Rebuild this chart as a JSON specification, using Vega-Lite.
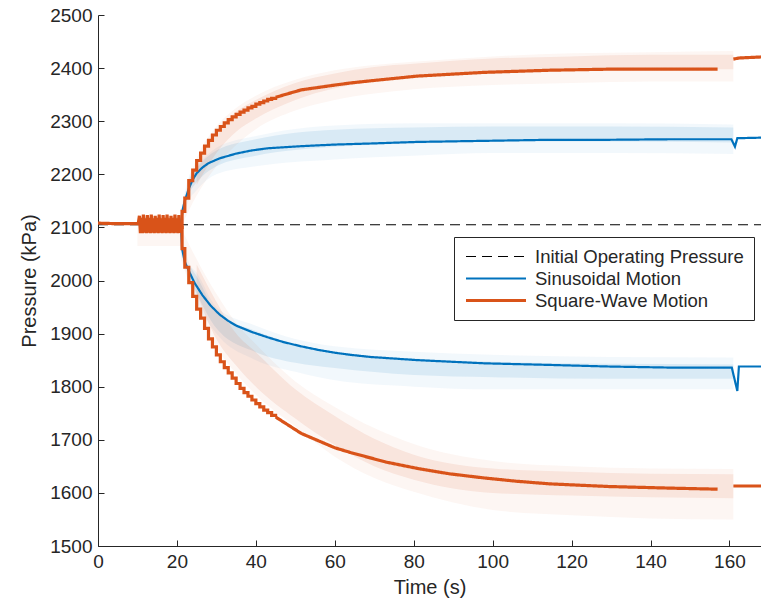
{
  "$schema": "https://vega.github.io/schema/vega-lite/v6.json",
  "autosize": "none",
  "width": 663,
  "height": 531,
  "padding": {"left": 98, "top": 15, "right": 0, "bottom": 67},
  "background": "white",
  "datasets": {
    "bands": [
      {"grp": "qo", "motion": "Square-Wave Motion", "kind": "faint", "t": 10, "lo": 2065, "hi": 2105},
      {"grp": "qo", "motion": "Square-Wave Motion", "kind": "faint", "t": 21, "lo": 2065, "hi": 2105},

      {"grp": "bu", "motion": "Sinusoidal Motion", "kind": "faint", "t": 21, "lo": 2105, "hi": 2125},
      {"grp": "bu", "motion": "Sinusoidal Motion", "kind": "faint", "t": 23, "lo": 2150, "hi": 2195},
      {"grp": "bu", "motion": "Sinusoidal Motion", "kind": "faint", "t": 25, "lo": 2170, "hi": 2215},
      {"grp": "bu", "motion": "Sinusoidal Motion", "kind": "faint", "t": 30, "lo": 2200, "hi": 2250},
      {"grp": "bu", "motion": "Sinusoidal Motion", "kind": "faint", "t": 40, "lo": 2215, "hi": 2272},
      {"grp": "bu", "motion": "Sinusoidal Motion", "kind": "faint", "t": 60, "lo": 2228, "hi": 2292},
      {"grp": "bu", "motion": "Sinusoidal Motion", "kind": "faint", "t": 80, "lo": 2235, "hi": 2296},
      {"grp": "bu", "motion": "Sinusoidal Motion", "kind": "faint", "t": 100, "lo": 2240, "hi": 2296},
      {"grp": "bu", "motion": "Sinusoidal Motion", "kind": "faint", "t": 130, "lo": 2240, "hi": 2296},
      {"grp": "bu", "motion": "Sinusoidal Motion", "kind": "faint", "t": 161, "lo": 2238, "hi": 2294},
      {"grp": "bu", "motion": "Sinusoidal Motion", "kind": "dense", "t": 23, "lo": 2165, "hi": 2190},
      {"grp": "bu", "motion": "Sinusoidal Motion", "kind": "dense", "t": 25, "lo": 2185, "hi": 2212},
      {"grp": "bu", "motion": "Sinusoidal Motion", "kind": "dense", "t": 30, "lo": 2215, "hi": 2245},
      {"grp": "bu", "motion": "Sinusoidal Motion", "kind": "dense", "t": 40, "lo": 2235, "hi": 2266},
      {"grp": "bu", "motion": "Sinusoidal Motion", "kind": "dense", "t": 60, "lo": 2252, "hi": 2284},
      {"grp": "bu", "motion": "Sinusoidal Motion", "kind": "dense", "t": 80, "lo": 2258, "hi": 2288},
      {"grp": "bu", "motion": "Sinusoidal Motion", "kind": "dense", "t": 100, "lo": 2262, "hi": 2290},
      {"grp": "bu", "motion": "Sinusoidal Motion", "kind": "dense", "t": 130, "lo": 2262, "hi": 2290},
      {"grp": "bu", "motion": "Sinusoidal Motion", "kind": "dense", "t": 161, "lo": 2260, "hi": 2288},

      {"grp": "bl", "motion": "Sinusoidal Motion", "kind": "faint", "t": 21, "lo": 2050, "hi": 2100},
      {"grp": "bl", "motion": "Sinusoidal Motion", "kind": "faint", "t": 23, "lo": 2000, "hi": 2035},
      {"grp": "bl", "motion": "Sinusoidal Motion", "kind": "faint", "t": 25, "lo": 1960, "hi": 2015},
      {"grp": "bl", "motion": "Sinusoidal Motion", "kind": "faint", "t": 30, "lo": 1900, "hi": 1950},
      {"grp": "bl", "motion": "Sinusoidal Motion", "kind": "faint", "t": 40, "lo": 1850, "hi": 1915},
      {"grp": "bl", "motion": "Sinusoidal Motion", "kind": "faint", "t": 50, "lo": 1828, "hi": 1890},
      {"grp": "bl", "motion": "Sinusoidal Motion", "kind": "faint", "t": 60, "lo": 1812, "hi": 1876},
      {"grp": "bl", "motion": "Sinusoidal Motion", "kind": "faint", "t": 80, "lo": 1800, "hi": 1866},
      {"grp": "bl", "motion": "Sinusoidal Motion", "kind": "faint", "t": 100, "lo": 1795, "hi": 1860},
      {"grp": "bl", "motion": "Sinusoidal Motion", "kind": "faint", "t": 130, "lo": 1795, "hi": 1856},
      {"grp": "bl", "motion": "Sinusoidal Motion", "kind": "faint", "t": 161, "lo": 1795, "hi": 1855},
      {"grp": "bl", "motion": "Sinusoidal Motion", "kind": "dense", "t": 23, "lo": 2005, "hi": 2030},
      {"grp": "bl", "motion": "Sinusoidal Motion", "kind": "dense", "t": 25, "lo": 1975, "hi": 2008},
      {"grp": "bl", "motion": "Sinusoidal Motion", "kind": "dense", "t": 30, "lo": 1910, "hi": 1940},
      {"grp": "bl", "motion": "Sinusoidal Motion", "kind": "dense", "t": 40, "lo": 1865, "hi": 1905},
      {"grp": "bl", "motion": "Sinusoidal Motion", "kind": "dense", "t": 50, "lo": 1845, "hi": 1880},
      {"grp": "bl", "motion": "Sinusoidal Motion", "kind": "dense", "t": 60, "lo": 1835, "hi": 1866},
      {"grp": "bl", "motion": "Sinusoidal Motion", "kind": "dense", "t": 80, "lo": 1822, "hi": 1853},
      {"grp": "bl", "motion": "Sinusoidal Motion", "kind": "dense", "t": 100, "lo": 1818, "hi": 1847},
      {"grp": "bl", "motion": "Sinusoidal Motion", "kind": "dense", "t": 130, "lo": 1815, "hi": 1843},
      {"grp": "bl", "motion": "Sinusoidal Motion", "kind": "dense", "t": 161, "lo": 1815, "hi": 1842},

      {"grp": "qu", "motion": "Square-Wave Motion", "kind": "faint", "t": 21, "lo": 2100, "hi": 2135},
      {"grp": "qu", "motion": "Square-Wave Motion", "kind": "faint", "t": 25, "lo": 2160, "hi": 2230},
      {"grp": "qu", "motion": "Square-Wave Motion", "kind": "faint", "t": 30, "lo": 2215, "hi": 2290},
      {"grp": "qu", "motion": "Square-Wave Motion", "kind": "faint", "t": 35, "lo": 2255, "hi": 2325},
      {"grp": "qu", "motion": "Square-Wave Motion", "kind": "faint", "t": 40, "lo": 2285, "hi": 2348},
      {"grp": "qu", "motion": "Square-Wave Motion", "kind": "faint", "t": 50, "lo": 2320, "hi": 2378},
      {"grp": "qu", "motion": "Square-Wave Motion", "kind": "faint", "t": 60, "lo": 2340, "hi": 2396},
      {"grp": "qu", "motion": "Square-Wave Motion", "kind": "faint", "t": 70, "lo": 2352, "hi": 2406},
      {"grp": "qu", "motion": "Square-Wave Motion", "kind": "faint", "t": 80, "lo": 2360, "hi": 2412},
      {"grp": "qu", "motion": "Square-Wave Motion", "kind": "faint", "t": 100, "lo": 2368, "hi": 2422},
      {"grp": "qu", "motion": "Square-Wave Motion", "kind": "faint", "t": 120, "lo": 2372, "hi": 2428},
      {"grp": "qu", "motion": "Square-Wave Motion", "kind": "faint", "t": 140, "lo": 2375, "hi": 2430},
      {"grp": "qu", "motion": "Square-Wave Motion", "kind": "faint", "t": 161, "lo": 2375, "hi": 2432},
      {"grp": "qu", "motion": "Square-Wave Motion", "kind": "dense", "t": 25, "lo": 2180, "hi": 2222},
      {"grp": "qu", "motion": "Square-Wave Motion", "kind": "dense", "t": 30, "lo": 2240, "hi": 2282},
      {"grp": "qu", "motion": "Square-Wave Motion", "kind": "dense", "t": 35, "lo": 2280, "hi": 2318},
      {"grp": "qu", "motion": "Square-Wave Motion", "kind": "dense", "t": 40, "lo": 2305, "hi": 2340},
      {"grp": "qu", "motion": "Square-Wave Motion", "kind": "dense", "t": 50, "lo": 2340, "hi": 2372},
      {"grp": "qu", "motion": "Square-Wave Motion", "kind": "dense", "t": 60, "lo": 2362, "hi": 2390},
      {"grp": "qu", "motion": "Square-Wave Motion", "kind": "dense", "t": 70, "lo": 2375, "hi": 2402},
      {"grp": "qu", "motion": "Square-Wave Motion", "kind": "dense", "t": 80, "lo": 2385, "hi": 2408},
      {"grp": "qu", "motion": "Square-Wave Motion", "kind": "dense", "t": 100, "lo": 2392, "hi": 2418},
      {"grp": "qu", "motion": "Square-Wave Motion", "kind": "dense", "t": 120, "lo": 2396, "hi": 2422},
      {"grp": "qu", "motion": "Square-Wave Motion", "kind": "dense", "t": 140, "lo": 2398, "hi": 2425},
      {"grp": "qu", "motion": "Square-Wave Motion", "kind": "dense", "t": 161, "lo": 2398, "hi": 2425},

      {"grp": "ql", "motion": "Square-Wave Motion", "kind": "faint", "t": 21, "lo": 2040, "hi": 2100},
      {"grp": "ql", "motion": "Square-Wave Motion", "kind": "faint", "t": 25, "lo": 1955, "hi": 2040},
      {"grp": "ql", "motion": "Square-Wave Motion", "kind": "faint", "t": 30, "lo": 1875, "hi": 1975},
      {"grp": "ql", "motion": "Square-Wave Motion", "kind": "faint", "t": 35, "lo": 1825, "hi": 1920},
      {"grp": "ql", "motion": "Square-Wave Motion", "kind": "faint", "t": 40, "lo": 1785, "hi": 1880},
      {"grp": "ql", "motion": "Square-Wave Motion", "kind": "faint", "t": 50, "lo": 1725, "hi": 1810},
      {"grp": "ql", "motion": "Square-Wave Motion", "kind": "faint", "t": 60, "lo": 1668, "hi": 1762},
      {"grp": "ql", "motion": "Square-Wave Motion", "kind": "faint", "t": 70, "lo": 1628, "hi": 1722},
      {"grp": "ql", "motion": "Square-Wave Motion", "kind": "faint", "t": 80, "lo": 1602, "hi": 1692},
      {"grp": "ql", "motion": "Square-Wave Motion", "kind": "faint", "t": 100, "lo": 1568, "hi": 1660},
      {"grp": "ql", "motion": "Square-Wave Motion", "kind": "faint", "t": 120, "lo": 1558, "hi": 1650},
      {"grp": "ql", "motion": "Square-Wave Motion", "kind": "faint", "t": 140, "lo": 1552, "hi": 1646},
      {"grp": "ql", "motion": "Square-Wave Motion", "kind": "faint", "t": 161, "lo": 1550, "hi": 1645},
      {"grp": "ql", "motion": "Square-Wave Motion", "kind": "dense", "t": 25, "lo": 1975, "hi": 2030},
      {"grp": "ql", "motion": "Square-Wave Motion", "kind": "dense", "t": 30, "lo": 1890, "hi": 1960},
      {"grp": "ql", "motion": "Square-Wave Motion", "kind": "dense", "t": 35, "lo": 1840, "hi": 1900},
      {"grp": "ql", "motion": "Square-Wave Motion", "kind": "dense", "t": 40, "lo": 1800, "hi": 1865},
      {"grp": "ql", "motion": "Square-Wave Motion", "kind": "dense", "t": 50, "lo": 1740, "hi": 1795},
      {"grp": "ql", "motion": "Square-Wave Motion", "kind": "dense", "t": 60, "lo": 1690, "hi": 1745},
      {"grp": "ql", "motion": "Square-Wave Motion", "kind": "dense", "t": 70, "lo": 1650, "hi": 1702},
      {"grp": "ql", "motion": "Square-Wave Motion", "kind": "dense", "t": 80, "lo": 1625, "hi": 1672},
      {"grp": "ql", "motion": "Square-Wave Motion", "kind": "dense", "t": 100, "lo": 1600, "hi": 1646},
      {"grp": "ql", "motion": "Square-Wave Motion", "kind": "dense", "t": 120, "lo": 1595, "hi": 1640},
      {"grp": "ql", "motion": "Square-Wave Motion", "kind": "dense", "t": 140, "lo": 1592, "hi": 1636},
      {"grp": "ql", "motion": "Square-Wave Motion", "kind": "dense", "t": 161, "lo": 1590, "hi": 1635}
    ],
    "lines": [
      {"series": "Initial Operating Pressure", "seg": "d", "t": 0, "p": 2105},
      {"series": "Initial Operating Pressure", "seg": "d", "t": 168, "p": 2105},

      {"series": "Sinusoidal Motion", "seg": "su", "t": 0, "p": 2108},
      {"series": "Sinusoidal Motion", "seg": "su", "t": 21, "p": 2108},
      {"series": "Sinusoidal Motion", "seg": "su", "t": 21.5, "p": 2135},
      {"series": "Sinusoidal Motion", "seg": "su", "t": 22, "p": 2150},
      {"series": "Sinusoidal Motion", "seg": "su", "t": 23, "p": 2173},
      {"series": "Sinusoidal Motion", "seg": "su", "t": 24, "p": 2190},
      {"series": "Sinusoidal Motion", "seg": "su", "t": 25, "p": 2202},
      {"series": "Sinusoidal Motion", "seg": "su", "t": 26.5, "p": 2213},
      {"series": "Sinusoidal Motion", "seg": "su", "t": 28, "p": 2221},
      {"series": "Sinusoidal Motion", "seg": "su", "t": 30.8, "p": 2230},
      {"series": "Sinusoidal Motion", "seg": "su", "t": 35, "p": 2239},
      {"series": "Sinusoidal Motion", "seg": "su", "t": 39, "p": 2245},
      {"series": "Sinusoidal Motion", "seg": "su", "t": 43, "p": 2249},
      {"series": "Sinusoidal Motion", "seg": "su", "t": 51.5, "p": 2253},
      {"series": "Sinusoidal Motion", "seg": "su", "t": 60, "p": 2256},
      {"series": "Sinusoidal Motion", "seg": "su", "t": 69, "p": 2258},
      {"series": "Sinusoidal Motion", "seg": "su", "t": 81, "p": 2261},
      {"series": "Sinusoidal Motion", "seg": "su", "t": 98, "p": 2263},
      {"series": "Sinusoidal Motion", "seg": "su", "t": 114.5, "p": 2265},
      {"series": "Sinusoidal Motion", "seg": "su", "t": 129.5, "p": 2265},
      {"series": "Sinusoidal Motion", "seg": "su", "t": 145, "p": 2266},
      {"series": "Sinusoidal Motion", "seg": "su", "t": 160.5, "p": 2266},
      {"series": "Sinusoidal Motion", "seg": "su", "t": 161.4, "p": 2252},
      {"series": "Sinusoidal Motion", "seg": "su", "t": 162, "p": 2268},
      {"series": "Sinusoidal Motion", "seg": "su", "t": 168, "p": 2269},

      {"series": "Sinusoidal Motion", "seg": "sl", "t": 21, "p": 2108},
      {"series": "Sinusoidal Motion", "seg": "sl", "t": 21.3, "p": 2060},
      {"series": "Sinusoidal Motion", "seg": "sl", "t": 22, "p": 2035},
      {"series": "Sinusoidal Motion", "seg": "sl", "t": 23.2, "p": 2015},
      {"series": "Sinusoidal Motion", "seg": "sl", "t": 24.5, "p": 1995},
      {"series": "Sinusoidal Motion", "seg": "sl", "t": 26.5, "p": 1972},
      {"series": "Sinusoidal Motion", "seg": "sl", "t": 28.5, "p": 1953},
      {"series": "Sinusoidal Motion", "seg": "sl", "t": 30.8, "p": 1936},
      {"series": "Sinusoidal Motion", "seg": "sl", "t": 33, "p": 1924},
      {"series": "Sinusoidal Motion", "seg": "sl", "t": 35, "p": 1915},
      {"series": "Sinusoidal Motion", "seg": "sl", "t": 39, "p": 1903},
      {"series": "Sinusoidal Motion", "seg": "sl", "t": 43, "p": 1893},
      {"series": "Sinusoidal Motion", "seg": "sl", "t": 47, "p": 1884},
      {"series": "Sinusoidal Motion", "seg": "sl", "t": 51.5, "p": 1876},
      {"series": "Sinusoidal Motion", "seg": "sl", "t": 56, "p": 1869},
      {"series": "Sinusoidal Motion", "seg": "sl", "t": 60, "p": 1864},
      {"series": "Sinusoidal Motion", "seg": "sl", "t": 64, "p": 1860},
      {"series": "Sinusoidal Motion", "seg": "sl", "t": 69, "p": 1856},
      {"series": "Sinusoidal Motion", "seg": "sl", "t": 81, "p": 1850},
      {"series": "Sinusoidal Motion", "seg": "sl", "t": 98, "p": 1844},
      {"series": "Sinusoidal Motion", "seg": "sl", "t": 114.5, "p": 1841},
      {"series": "Sinusoidal Motion", "seg": "sl", "t": 129.5, "p": 1838},
      {"series": "Sinusoidal Motion", "seg": "sl", "t": 145, "p": 1836},
      {"series": "Sinusoidal Motion", "seg": "sl", "t": 160.6, "p": 1836},
      {"series": "Sinusoidal Motion", "seg": "sl", "t": 162, "p": 1792},
      {"series": "Sinusoidal Motion", "seg": "sl", "t": 162.4, "p": 1838},
      {"series": "Sinusoidal Motion", "seg": "sl", "t": 168, "p": 1838},

      {"series": "Square-Wave Motion", "seg": "q0", "t": 0, "p": 2108},
      {"series": "Square-Wave Motion", "seg": "q0", "t": 5, "p": 2107},
      {"series": "Square-Wave Motion", "seg": "q0", "t": 10.2, "p": 2107},
      {"series": "Square-Wave Motion", "seg": "q0", "t": 10.5, "p": 2122},
      {"series": "Square-Wave Motion", "seg": "q0", "t": 10.75, "p": 2089},
      {"series": "Square-Wave Motion", "seg": "q0", "t": 11, "p": 2118},
      {"series": "Square-Wave Motion", "seg": "q0", "t": 11.25, "p": 2089},
      {"series": "Square-Wave Motion", "seg": "q0", "t": 11.5, "p": 2124},
      {"series": "Square-Wave Motion", "seg": "q0", "t": 11.75, "p": 2090},
      {"series": "Square-Wave Motion", "seg": "q0", "t": 12, "p": 2117},
      {"series": "Square-Wave Motion", "seg": "q0", "t": 12.25, "p": 2089},
      {"series": "Square-Wave Motion", "seg": "q0", "t": 12.5, "p": 2123},
      {"series": "Square-Wave Motion", "seg": "q0", "t": 12.75, "p": 2090},
      {"series": "Square-Wave Motion", "seg": "q0", "t": 13, "p": 2118},
      {"series": "Square-Wave Motion", "seg": "q0", "t": 13.25, "p": 2089},
      {"series": "Square-Wave Motion", "seg": "q0", "t": 13.5, "p": 2124},
      {"series": "Square-Wave Motion", "seg": "q0", "t": 13.75, "p": 2090},
      {"series": "Square-Wave Motion", "seg": "q0", "t": 14, "p": 2117},
      {"series": "Square-Wave Motion", "seg": "q0", "t": 14.25, "p": 2089},
      {"series": "Square-Wave Motion", "seg": "q0", "t": 14.5, "p": 2122},
      {"series": "Square-Wave Motion", "seg": "q0", "t": 14.75, "p": 2090},
      {"series": "Square-Wave Motion", "seg": "q0", "t": 15, "p": 2118},
      {"series": "Square-Wave Motion", "seg": "q0", "t": 15.25, "p": 2089},
      {"series": "Square-Wave Motion", "seg": "q0", "t": 15.5, "p": 2124},
      {"series": "Square-Wave Motion", "seg": "q0", "t": 15.75, "p": 2090},
      {"series": "Square-Wave Motion", "seg": "q0", "t": 16, "p": 2117},
      {"series": "Square-Wave Motion", "seg": "q0", "t": 16.25, "p": 2089},
      {"series": "Square-Wave Motion", "seg": "q0", "t": 16.5, "p": 2123},
      {"series": "Square-Wave Motion", "seg": "q0", "t": 16.75, "p": 2090},
      {"series": "Square-Wave Motion", "seg": "q0", "t": 17, "p": 2118},
      {"series": "Square-Wave Motion", "seg": "q0", "t": 17.25, "p": 2089},
      {"series": "Square-Wave Motion", "seg": "q0", "t": 17.5, "p": 2124},
      {"series": "Square-Wave Motion", "seg": "q0", "t": 17.75, "p": 2090},
      {"series": "Square-Wave Motion", "seg": "q0", "t": 18, "p": 2117},
      {"series": "Square-Wave Motion", "seg": "q0", "t": 18.25, "p": 2089},
      {"series": "Square-Wave Motion", "seg": "q0", "t": 18.5, "p": 2122},
      {"series": "Square-Wave Motion", "seg": "q0", "t": 18.75, "p": 2090},
      {"series": "Square-Wave Motion", "seg": "q0", "t": 19, "p": 2118},
      {"series": "Square-Wave Motion", "seg": "q0", "t": 19.25, "p": 2089},
      {"series": "Square-Wave Motion", "seg": "q0", "t": 19.5, "p": 2124},
      {"series": "Square-Wave Motion", "seg": "q0", "t": 19.75, "p": 2090},
      {"series": "Square-Wave Motion", "seg": "q0", "t": 20, "p": 2117},
      {"series": "Square-Wave Motion", "seg": "q0", "t": 20.25, "p": 2089},
      {"series": "Square-Wave Motion", "seg": "q0", "t": 20.5, "p": 2123},
      {"series": "Square-Wave Motion", "seg": "q0", "t": 20.75, "p": 2090},
      {"series": "Square-Wave Motion", "seg": "q0", "t": 21, "p": 2100},

      {"series": "Square-Wave Motion", "seg": "q2", "t": 45, "p": 2345},
      {"series": "Square-Wave Motion", "seg": "q2", "t": 51.5, "p": 2359},
      {"series": "Square-Wave Motion", "seg": "q2", "t": 60, "p": 2368},
      {"series": "Square-Wave Motion", "seg": "q2", "t": 64, "p": 2372},
      {"series": "Square-Wave Motion", "seg": "q2", "t": 69, "p": 2376},
      {"series": "Square-Wave Motion", "seg": "q2", "t": 81, "p": 2385},
      {"series": "Square-Wave Motion", "seg": "q2", "t": 98, "p": 2392},
      {"series": "Square-Wave Motion", "seg": "q2", "t": 114.5, "p": 2396},
      {"series": "Square-Wave Motion", "seg": "q2", "t": 129.5, "p": 2398},
      {"series": "Square-Wave Motion", "seg": "q2", "t": 145, "p": 2398},
      {"series": "Square-Wave Motion", "seg": "q2", "t": 157, "p": 2398},
      {"series": "Square-Wave Motion", "seg": "q3", "t": 161, "p": 2417},
      {"series": "Square-Wave Motion", "seg": "q3", "t": 162.5, "p": 2419},
      {"series": "Square-Wave Motion", "seg": "q3", "t": 168, "p": 2421},

      {"series": "Square-Wave Motion", "seg": "q5", "t": 45, "p": 1743},
      {"series": "Square-Wave Motion", "seg": "q5", "t": 51.5, "p": 1712},
      {"series": "Square-Wave Motion", "seg": "q5", "t": 60, "p": 1685},
      {"series": "Square-Wave Motion", "seg": "q5", "t": 64, "p": 1676},
      {"series": "Square-Wave Motion", "seg": "q5", "t": 69, "p": 1666},
      {"series": "Square-Wave Motion", "seg": "q5", "t": 73, "p": 1658},
      {"series": "Square-Wave Motion", "seg": "q5", "t": 81, "p": 1646},
      {"series": "Square-Wave Motion", "seg": "q5", "t": 89, "p": 1636},
      {"series": "Square-Wave Motion", "seg": "q5", "t": 98, "p": 1628},
      {"series": "Square-Wave Motion", "seg": "q5", "t": 106, "p": 1622},
      {"series": "Square-Wave Motion", "seg": "q5", "t": 114.5, "p": 1617},
      {"series": "Square-Wave Motion", "seg": "q5", "t": 129.5, "p": 1612},
      {"series": "Square-Wave Motion", "seg": "q5", "t": 145, "p": 1609},
      {"series": "Square-Wave Motion", "seg": "q5", "t": 157, "p": 1607},
      {"series": "Square-Wave Motion", "seg": "q6", "t": 161, "p": 1613},
      {"series": "Square-Wave Motion", "seg": "q6", "t": 168, "p": 1613}
    ],
    "steps": [
      {"series": "Square-Wave Motion", "seg": "q1", "t": 21, "p": 2100},
      {"series": "Square-Wave Motion", "seg": "q1", "t": 21.3, "p": 2130},
      {"series": "Square-Wave Motion", "seg": "q1", "t": 22, "p": 2155},
      {"series": "Square-Wave Motion", "seg": "q1", "t": 23, "p": 2188},
      {"series": "Square-Wave Motion", "seg": "q1", "t": 24, "p": 2208},
      {"series": "Square-Wave Motion", "seg": "q1", "t": 25, "p": 2226},
      {"series": "Square-Wave Motion", "seg": "q1", "t": 26, "p": 2240},
      {"series": "Square-Wave Motion", "seg": "q1", "t": 27, "p": 2253},
      {"series": "Square-Wave Motion", "seg": "q1", "t": 28, "p": 2264},
      {"series": "Square-Wave Motion", "seg": "q1", "t": 29, "p": 2274},
      {"series": "Square-Wave Motion", "seg": "q1", "t": 30, "p": 2283},
      {"series": "Square-Wave Motion", "seg": "q1", "t": 31, "p": 2290},
      {"series": "Square-Wave Motion", "seg": "q1", "t": 32, "p": 2297},
      {"series": "Square-Wave Motion", "seg": "q1", "t": 33, "p": 2303},
      {"series": "Square-Wave Motion", "seg": "q1", "t": 34, "p": 2308},
      {"series": "Square-Wave Motion", "seg": "q1", "t": 35, "p": 2313},
      {"series": "Square-Wave Motion", "seg": "q1", "t": 36, "p": 2317},
      {"series": "Square-Wave Motion", "seg": "q1", "t": 37, "p": 2321},
      {"series": "Square-Wave Motion", "seg": "q1", "t": 38, "p": 2325},
      {"series": "Square-Wave Motion", "seg": "q1", "t": 39, "p": 2328},
      {"series": "Square-Wave Motion", "seg": "q1", "t": 40, "p": 2332},
      {"series": "Square-Wave Motion", "seg": "q1", "t": 41, "p": 2335},
      {"series": "Square-Wave Motion", "seg": "q1", "t": 42, "p": 2338},
      {"series": "Square-Wave Motion", "seg": "q1", "t": 43, "p": 2341},
      {"series": "Square-Wave Motion", "seg": "q1", "t": 44, "p": 2343},
      {"series": "Square-Wave Motion", "seg": "q1", "t": 45, "p": 2345},

      {"series": "Square-Wave Motion", "seg": "q4", "t": 21, "p": 2100},
      {"series": "Square-Wave Motion", "seg": "q4", "t": 21.3, "p": 2060},
      {"series": "Square-Wave Motion", "seg": "q4", "t": 22, "p": 2025},
      {"series": "Square-Wave Motion", "seg": "q4", "t": 23, "p": 1996},
      {"series": "Square-Wave Motion", "seg": "q4", "t": 24, "p": 1970},
      {"series": "Square-Wave Motion", "seg": "q4", "t": 25, "p": 1946},
      {"series": "Square-Wave Motion", "seg": "q4", "t": 26, "p": 1929},
      {"series": "Square-Wave Motion", "seg": "q4", "t": 27, "p": 1910},
      {"series": "Square-Wave Motion", "seg": "q4", "t": 28, "p": 1890},
      {"series": "Square-Wave Motion", "seg": "q4", "t": 29, "p": 1875},
      {"series": "Square-Wave Motion", "seg": "q4", "t": 30, "p": 1860},
      {"series": "Square-Wave Motion", "seg": "q4", "t": 31, "p": 1847},
      {"series": "Square-Wave Motion", "seg": "q4", "t": 32, "p": 1836},
      {"series": "Square-Wave Motion", "seg": "q4", "t": 33, "p": 1826},
      {"series": "Square-Wave Motion", "seg": "q4", "t": 34, "p": 1816},
      {"series": "Square-Wave Motion", "seg": "q4", "t": 35, "p": 1806},
      {"series": "Square-Wave Motion", "seg": "q4", "t": 36, "p": 1797},
      {"series": "Square-Wave Motion", "seg": "q4", "t": 37, "p": 1789},
      {"series": "Square-Wave Motion", "seg": "q4", "t": 38, "p": 1782},
      {"series": "Square-Wave Motion", "seg": "q4", "t": 39, "p": 1775},
      {"series": "Square-Wave Motion", "seg": "q4", "t": 40, "p": 1768},
      {"series": "Square-Wave Motion", "seg": "q4", "t": 41, "p": 1762},
      {"series": "Square-Wave Motion", "seg": "q4", "t": 42, "p": 1756},
      {"series": "Square-Wave Motion", "seg": "q4", "t": 43, "p": 1751},
      {"series": "Square-Wave Motion", "seg": "q4", "t": 44, "p": 1746},
      {"series": "Square-Wave Motion", "seg": "q4", "t": 45, "p": 1743}
    ]
  },
  "layer": [
    {
      "data": {"name": "bands"},
      "mark": {"type": "area", "interpolate": "monotone"},
      "encoding": {
        "x": {"field": "t", "type": "quantitative", "scale": {"domain": [0, 168], "nice": false, "zero": false}, "axis": {"title": "Time (s)", "values": [0, 20, 40, 60, 80, 100, 120, 140, 160], "format": "d"}},
        "y": {"field": "lo", "type": "quantitative", "scale": {"domain": [1500, 2500], "nice": false, "zero": false}, "axis": {"title": "Pressure (kPa)", "values": [1500, 1600, 1700, 1800, 1900, 2000, 2100, 2200, 2300, 2400, 2500], "format": "d"}},
        "y2": {"field": "hi"},
        "fill": {"field": "motion", "type": "nominal", "scale": {"domain": ["Sinusoidal Motion", "Square-Wave Motion"], "range": ["#0072BD", "#D95319"]}, "legend": null},
        "opacity": {"field": "kind", "type": "nominal", "scale": {"domain": ["faint", "dense"], "range": [0.05, 0.1]}, "legend": null},
        "detail": [{"field": "grp"}, {"field": "kind"}]
      }
    },
    {
      "data": {"name": "lines"},
      "transform": [{"filter": "datum.series != 'Square-Wave Motion'"}],
      "mark": {"type": "line", "strokeCap": "butt"},
      "encoding": {
        "x": {"field": "t", "type": "quantitative"},
        "y": {"field": "p", "type": "quantitative"},
        "color": {"field": "series", "type": "nominal", "title": null, "scale": {"domain": ["Initial Operating Pressure", "Sinusoidal Motion", "Square-Wave Motion"], "range": ["#000000", "#0072BD", "#D95319"]}},
        "strokeDash": {"field": "series", "type": "nominal", "title": null, "scale": {"domain": ["Initial Operating Pressure", "Sinusoidal Motion", "Square-Wave Motion"], "range": [[10, 6], [1, 0], [1, 0]]}},
        "strokeWidth": {"field": "series", "type": "nominal", "title": null, "scale": {"domain": ["Initial Operating Pressure", "Sinusoidal Motion", "Square-Wave Motion"], "range": [1.2, 3.2, 3.2]}},
        "detail": {"field": "seg"}
      }
    },
    {
      "data": {"name": "lines"},
      "transform": [{"filter": "datum.series == 'Square-Wave Motion'"}],
      "mark": {"type": "line", "strokeCap": "butt"},
      "encoding": {
        "x": {"field": "t", "type": "quantitative"},
        "y": {"field": "p", "type": "quantitative"},
        "color": {"field": "series", "type": "nominal", "title": null},
        "strokeDash": {"field": "series", "type": "nominal", "title": null},
        "strokeWidth": {"field": "series", "type": "nominal", "title": null},
        "detail": {"field": "seg"}
      }
    },
    {
      "data": {"name": "steps"},
      "mark": {"type": "line", "interpolate": "step-after", "strokeCap": "butt"},
      "encoding": {
        "x": {"field": "t", "type": "quantitative"},
        "y": {"field": "p", "type": "quantitative"},
        "color": {"field": "series", "type": "nominal", "title": null},
        "strokeDash": {"field": "series", "type": "nominal", "title": null},
        "strokeWidth": {"field": "series", "type": "nominal", "title": null},
        "detail": {"field": "seg"}
      }
    }
  ],
  "config": {
    "font": "Liberation Sans",
    "view": {"stroke": null},
    "axis": {
      "grid": false,
      "domainColor": "#262626",
      "domainWidth": 1,
      "tickColor": "#262626",
      "tickSize": -6,
      "labelColor": "#262626",
      "labelFontSize": 19,
      "labelPadding": 12,
      "titleColor": "#262626",
      "titleFontSize": 20,
      "titleFontWeight": "normal",
      "labelFlush": false,
      "labelOverlap": false
    },
    "axisX": {"titlePadding": 6},
    "axisY": {"titlePadding": 10},
    "legend": {
      "orient": "none",
      "legendX": 356,
      "legendY": 222,
      "direction": "vertical",
      "fillColor": "white",
      "strokeColor": "#262626",
      "padding": 10,
      "labelFontSize": 18.5,
      "labelColor": "#262626",
      "labelOffset": 7,
      "labelLimit": 400,
      "symbolType": "stroke",
      "symbolSize": 3600,
      "symbolStrokeWidth": 2.6,
      "clipHeight": 19,
      "rowPadding": 3
    }
  }
}
